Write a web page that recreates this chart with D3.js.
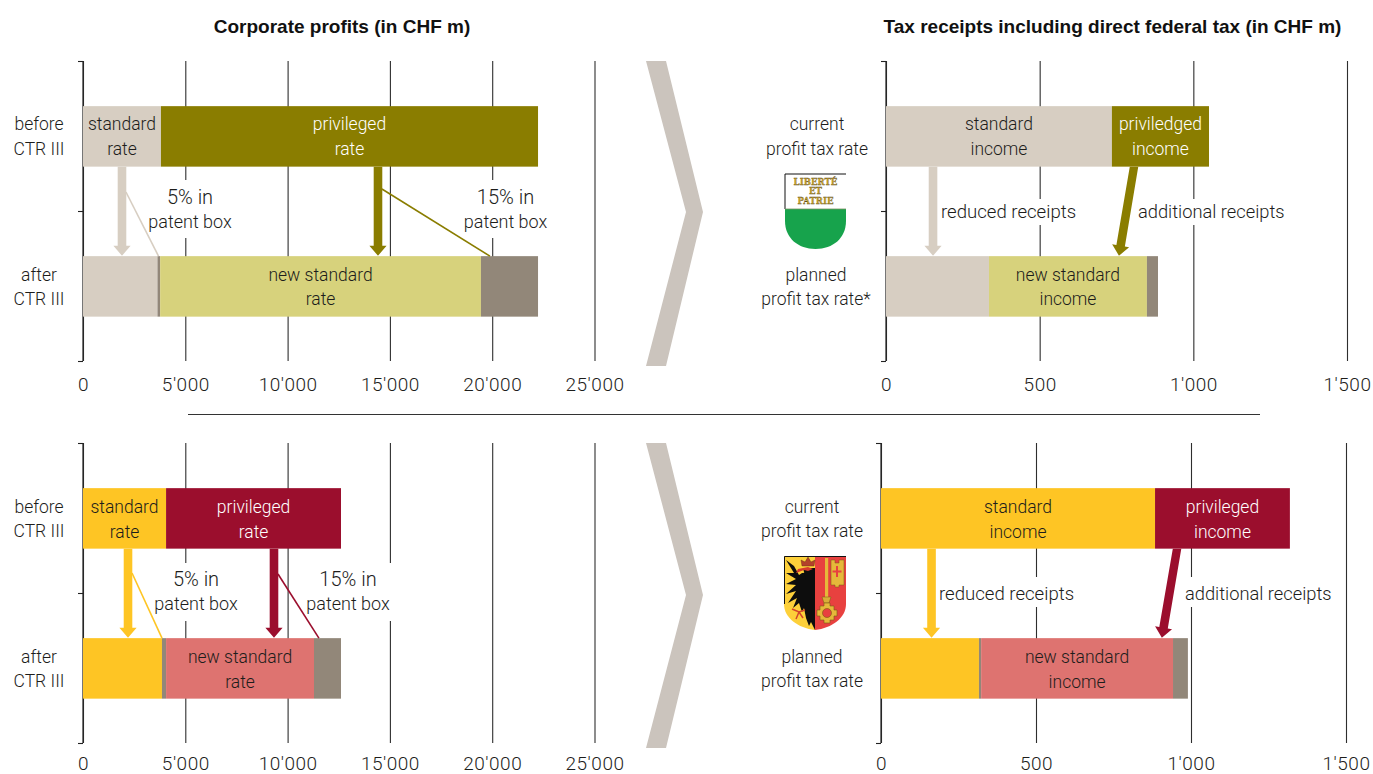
<!DOCTYPE html>
<html><head><meta charset="utf-8">
<script src="https://cdn.jsdelivr.net/npm/d3@7"></script>
<style>
html,body{margin:0;padding:0;background:#fff;overflow:hidden}
text{font-family:"Roboto","Liberation Sans",sans-serif;font-weight:300;font-size:17.5px;fill:#1d1d1b}
.title{font-family:"Liberation Sans",sans-serif;font-weight:700;font-size:19px;fill:#111}
</style></head><body>
<svg id="c" width="1373" height="774"></svg>
<script>
// ---- data (CHF m) ----
const profitTicks = [0, 5000, 10000, 15000, 20000, 25000];
const receiptTicks = [0, 500, 1000, 1500];
const rows = ["before", "after"];

const vaudProfitBefore  = [3810, 22240];
const vaudProfitAfter   = [3640, 3770, 19450, 22240];
const vaudReceiptBefore = [735, 1051];
const vaudReceiptAfter  = [335, 335, 849, 885];
const genevaProfitBefore  = [4060, 12610];
const genevaProfitAfter   = [3860, 4060, 11290, 12610];
const genevaReceiptBefore = [884, 1319];
const genevaReceiptAfter  = [316, 323, 942, 990];

const vaudColors = ["#d7cec2", "#8a7d00", "#d7d27c", "#928779"];
const genevaColors = ["#fec524", "#9b0e2d", "#de7370", "#928779"];

const titles = ["Corporate profits (in CHF m)", "Tax receipts including direct federal tax (in CHF m)"];

const svg = d3.select("#c");
const fmt = v => d3.format(",")(v).replace(/,/g, "'");

// ---- panel frames ----
const vp1 = {x0:83,  x1:594.5, yTop:61,  yBot:361, max:25000, ticks:profitTicks, pad:17};
const vp2 = {x0:886, x1:1347,  yTop:61,  yBot:361, max:1500,  ticks:receiptTicks, pad:17};
const gp1 = {x0:83,  x1:594.5, yTop:443, yBot:743, max:25000, ticks:profitTicks, pad:14};
const gp2 = {x0:881, x1:1346,  yTop:443, yBot:743, max:1500,  ticks:receiptTicks, pad:14};

function multi(g, lines, x, yc, anchor, fill, size){
  const t = g.append("text").attr("text-anchor", anchor||"middle").style("fill", fill||null);
  if(size) t.style("font-size",size+"px");
  lines.forEach((l,i)=>{
    const s=t.append("tspan").attr("x",x).attr("y",yc+(i-(lines.length-1)/2)*24.5).attr("dy","0.35em").text(l);
    if(/%/.test(l)) s.style("font-size","20px");
    if(/patent/.test(l)) s.style("font-size","18px");
  });
}
function mask(g,x,y,w,h){ g.append("rect").attr("x",x).attr("y",y).attr("width",w).attr("height",h).attr("fill","#fff"); }

function panel(p, before, after, colors, o){
  const g = svg.append("g");
  const x = d3.scaleLinear().domain([0,p.max]).range([p.x0,p.x1]);
  const y = d3.scalePoint().domain(["t0"].concat(rows[0],"mid",rows[1],"t1")).range([p.yTop,p.yBot]);
  const yl = d3.scaleLinear().domain([0,1,2]).range([p.yTop,(p.yTop+p.yBot)/2,p.yBot]);
  const ax = g.append("g").attr("transform",`translate(0,${p.yBot})`)
    .call(d3.axisBottom(x).tickValues(p.ticks).tickSize(-(p.yBot-p.yTop)).tickPadding(p.pad).tickFormat(fmt));
  ax.select(".domain").remove();
  ax.selectAll("line").attr("stroke","#2e2e2e").attr("stroke-width",1.1);
  ax.selectAll("text").style("font-size","19px").style("letter-spacing","0.5px").attr("fill",null);
  o.masks.forEach(m=>mask(g,m[0],m[1],m[2],m[3]));
  const ay = g.append("g").attr("transform",`translate(${p.x0},0)`)
    .call(d3.axisLeft(yl).tickValues([0,1,2]).tickSize(5).tickFormat(""));
  ay.select(".domain").attr("stroke","#222").attr("stroke-width",1.2).attr("d",`M0,${p.yTop}V${p.yBot}`);
  ay.selectAll("line").attr("stroke","#222").attr("stroke-width",1.1);
  const bh = 60.5;
  const segB = [[0,before[0],colors[0]],[before[0],before[1],colors[1]]];
  const segA = [[0,after[0],colors[0]],[after[0],after[1],colors[3]],[after[1],after[2],colors[2]],[after[2],after[3],colors[3]]];
  const yB = y("before")-bh/2+0.4, yA = y("after")-bh/2+0.4;
  g.selectAll(".bb").data(segB).join("rect").attr("x",d=>x(d[0])).attr("width",d=>x(d[1])-x(d[0])).attr("y",yB).attr("height",bh).attr("fill",d=>d[2]);
  g.selectAll(".ba").data(segA).join("rect").attr("x",d=>x(d[0])).attr("width",d=>x(d[1])-x(d[0])).attr("y",yA).attr("height",bh).attr("fill",d=>d[2]);
  (o.lines||[]).forEach(l=>{
    g.append("line").attr("x1",x(l[0])).attr("x2",x(l[1])).attr("y1",l[3]).attr("y2",yA).attr("stroke",l[2]).attr("stroke-width",1.6);
  });
  o.arrows.forEach(a=>{
    const x1=x(a[0]),x2=x(a[1]),y1=yB+bh,y2=yA-0.5,ang=Math.atan2(y2-y1,x2-x1);
    const ux=Math.cos(ang),uy=Math.sin(ang),nx=-uy,ny=ux,hl=10,sw=4.3,hw=8.6;
    const bx=x2-ux*hl,by=y2-uy*hl;
    const pts=[[x1+nx*sw,y1],[bx+nx*sw,by+ny*sw],[bx+nx*hw,by+ny*hw],[x2,y2],[bx-nx*hw,by-ny*hw],[bx-nx*sw,by-ny*sw],[x1-nx*sw,y1]];
    g.append("polygon").attr("points",pts.join(" ")).attr("fill",a[2]);
  });
  o.labels.forEach(l=>multi(g,l.t,l.x(x),l.y,l.a,l.f,l.s));
}

const mid=(a,b)=>x=>(x(a)+x(b))/2;
const at=px=>()=>px;

panel(vp1,vaudProfitBefore,vaudProfitAfter,vaudColors,{
  masks:[[160,180,80,58],[459,180,95,58]],
  lines:[[2100,3690,vaudColors[0],192],[14610,19890,vaudColors[1],189]],
  arrows:[[1906,1906,vaudColors[0]],[14418,14418,vaudColors[1]]],
  labels:[
   {t:["before","CTR III"],x:at(39),y:136.5},{t:["after","CTR III"],x:at(39),y:287},
   {t:["standard","rate"],x:mid(0,vaudProfitBefore[0]),y:136.5},
   {t:["privileged","rate"],x:mid(vaudProfitBefore[0],vaudProfitBefore[1]),y:136.5,f:"#fff"},
   {t:["new standard","rate"],x:mid(vaudProfitAfter[1],vaudProfitAfter[2]),y:287},
   {t:["5% in","patent box"],x:at(190),y:209},{t:["15% in","patent box"],x:at(505.5),y:209.5}
  ]});
panel(vp2,vaudReceiptBefore,vaudReceiptAfter,vaudColors,{
  masks:[[938,199,140,26],[1136,199,150,26]],
  arrows:[[153,153,vaudColors[0]],[807,758,vaudColors[1]]],
  labels:[
   {t:["current","profit tax rate"],x:at(817),y:136.5},{t:["planned","profit tax rate*"],x:at(816),y:287},
   {t:["standard","income"],x:mid(0,vaudReceiptBefore[0]),y:136.5},
   {t:["priviledged","income"],x:mid(vaudReceiptBefore[0],vaudReceiptBefore[1]),y:136.5,f:"#fff"},
   {t:["new standard","income"],x:mid(vaudReceiptAfter[1],vaudReceiptAfter[2]),y:287},
   {t:["reduced receipts"],x:at(941),y:211.5,a:"start",s:18.6},{t:["additional receipts"],x:at(1138),y:211.5,a:"start",s:18.3}
  ]});
panel(gp1,genevaProfitBefore,genevaProfitAfter,genevaColors,{
  masks:[[151,563,92,58],[305,563,88,58]],
  lines:[[2395,3860,genevaColors[0],573],[9530,11530,genevaColors[1],574]],
  arrows:[[2200,2200,genevaColors[0]],[9335,9335,genevaColors[1]]],
  labels:[
   {t:["before","CTR III"],x:at(39),y:519},{t:["after","CTR III"],x:at(39),y:669},
   {t:["standard","rate"],x:mid(0,genevaProfitBefore[0]),y:519.5},
   {t:["privileged","rate"],x:mid(genevaProfitBefore[0],genevaProfitBefore[1]),y:519.5,f:"#fff"},
   {t:["new standard","rate"],x:mid(genevaProfitAfter[1],genevaProfitAfter[2]),y:669.5},
   {t:["5% in","patent box"],x:at(196),y:591},{t:["15% in","patent box"],x:at(348),y:591.5}
  ]});
panel(gp2,genevaReceiptBefore,genevaReceiptAfter,genevaColors,{
  masks:[[938,577,138,30],[1184,577,150,30]],
  arrows:[[163,163,genevaColors[0]],[955,906,genevaColors[1]]],
  labels:[
   {t:["current","profit tax rate"],x:at(812),y:519},{t:["planned","profit tax rate"],x:at(812),y:669},
   {t:["standard","income"],x:mid(0,genevaReceiptBefore[0]),y:519.5},
   {t:["privileged","income"],x:mid(genevaReceiptBefore[0],genevaReceiptBefore[1]),y:519.5,f:"#fff"},
   {t:["new standard","income"],x:mid(genevaReceiptAfter[1],genevaReceiptAfter[2]),y:669.5},
   {t:["reduced receipts"],x:at(939),y:593.5,a:"start",s:18.6},{t:["additional receipts"],x:at(1185),y:593.5,a:"start",s:18.3}
  ]});

svg.append("text").attr("class","title").attr("x",342).attr("y",33).attr("text-anchor","middle").text(titles[0]);
svg.append("text").attr("class","title").attr("x",1112.5).attr("y",33).attr("text-anchor","middle").text(titles[1]);

svg.append("line").attr("x1",188).attr("x2",1260).attr("y1",414.5).attr("y2",414.5).attr("stroke","#333").attr("stroke-width",1);

function chevron(t,m,b){
  svg.append("polygon").attr("points",[[646,t],[666,t],[703,m],[666,b],[646,b],[686,m]].join(" ")).attr("fill","#cbc4bd");
}
chevron(61,212,366); chevron(443,595,748);

// Vaud crest
const v = svg.append("g").attr("transform","translate(785,174)");
v.append("path").attr("d","M0,35V47C0,64 13,75 30.5,75C48,75 61,64 61,47V35Z").attr("fill","#17a34c");
v.append("path").attr("d","M61,0H0V35H61").attr("fill","#fff");
v.append("path").attr("d","M61,0H0V35").attr("fill","none").attr("stroke","#111").attr("stroke-width",1);
v.append("line").attr("x1",0).attr("x2",61).attr("y1",35).attr("y2",35).attr("stroke","#7a8f60").attr("stroke-width",0.8);
["LIBERTÉ","ET","PATRIE"].forEach((s,i)=>v.append("text").attr("x",30.5).attr("y",11+i*9.3).attr("text-anchor","middle")
  .style("font-family","'DejaVu Serif',serif").style("font-weight",700).style("font-size","8.6px").style("fill","#d4a92a").style("stroke","#5b4d20").style("stroke-width",0.3).text(s));

// Geneva crest
const c = svg.append("g").attr("transform","translate(784,556)");
c.append("clipPath").attr("id","sh").append("path").attr("d","M0,0H62V48C62,62 48,72 31,74C14,72 0,62 0,48Z");
const cg = c.append("g").attr("clip-path","url(#sh)");
cg.append("rect").attr("width",31).attr("height",74).attr("fill","#fdd03a");
cg.append("rect").attr("x",31).attr("width",31).attr("height",74).attr("fill","#e8413f");
cg.append("path").attr("fill","#0d0d0d").attr("d","M2,4L10,10L15,19L18,17L31,16V74L27,66L25,70L22,62L20,52L18,56L15,47L9,52L13,42L4,47L12,35L2,38L12,29L2,28L12,23L2,17L10,17Z");
cg.append("path").attr("fill","#fdd03a").attr("d","M7,54H17L19,62L14,66Z");
cg.append("path").attr("fill","none").attr("stroke","#d2452b").attr("stroke-width",1.5).attr("d","M8,53L15,56L21,54M15,56L12,63M15,56L19,62");
cg.append("path").attr("fill","#0d0d0d").attr("d","M19,12H31V24H22Z");
cg.append("path").attr("fill","#d63a2c").attr("d","M12,17L14,13L24,11L29,13L24,15L20,14Z");
cg.append("path").attr("fill","#b3412a").attr("stroke","#5a2a15").attr("stroke-width",0.4).attr("d","M18,10L17,4L21,6L24,1L27,6L31,4L30,10Z");
cg.append("rect").attr("x",41).attr("y",2).attr("width",3.2).attr("height",40).attr("fill","#e6b83a");
cg.append("path").attr("fill","#d9ae38").attr("stroke","#7a5b14").attr("stroke-width",0.5).attr("d","M38,41H47L45,47H40Z");
cg.append("path").attr("fill","#e6b83a").attr("stroke","#7a5b14").attr("stroke-width",0.6).attr("fill-rule","evenodd")
  .attr("d","M40,47H46V50H50V54H53V60H50V64H46V67H40V64H36V60H33V54H36V50H40ZM43,52.5A4.5,4.5 0 1 0 43,61.5A4.5,4.5 0 1 0 43,52.5Z");
cg.append("path").attr("fill","#e6b83a").attr("stroke","#7a5b14").attr("stroke-width",0.5)
  .attr("d","M47,4H51V7H55V4H60V29H55V31H51V29H47Z");
cg.append("path").attr("fill","#e8413f").attr("d","M52,10H54V14.5H57.5V16.5H54V21H52V16.5H48.5V14.5H52Z");
c.append("path").attr("d","M0.5,48V0.5H62").attr("fill","none").attr("stroke","#111").attr("stroke-width",1);
</script>
</body></html>
